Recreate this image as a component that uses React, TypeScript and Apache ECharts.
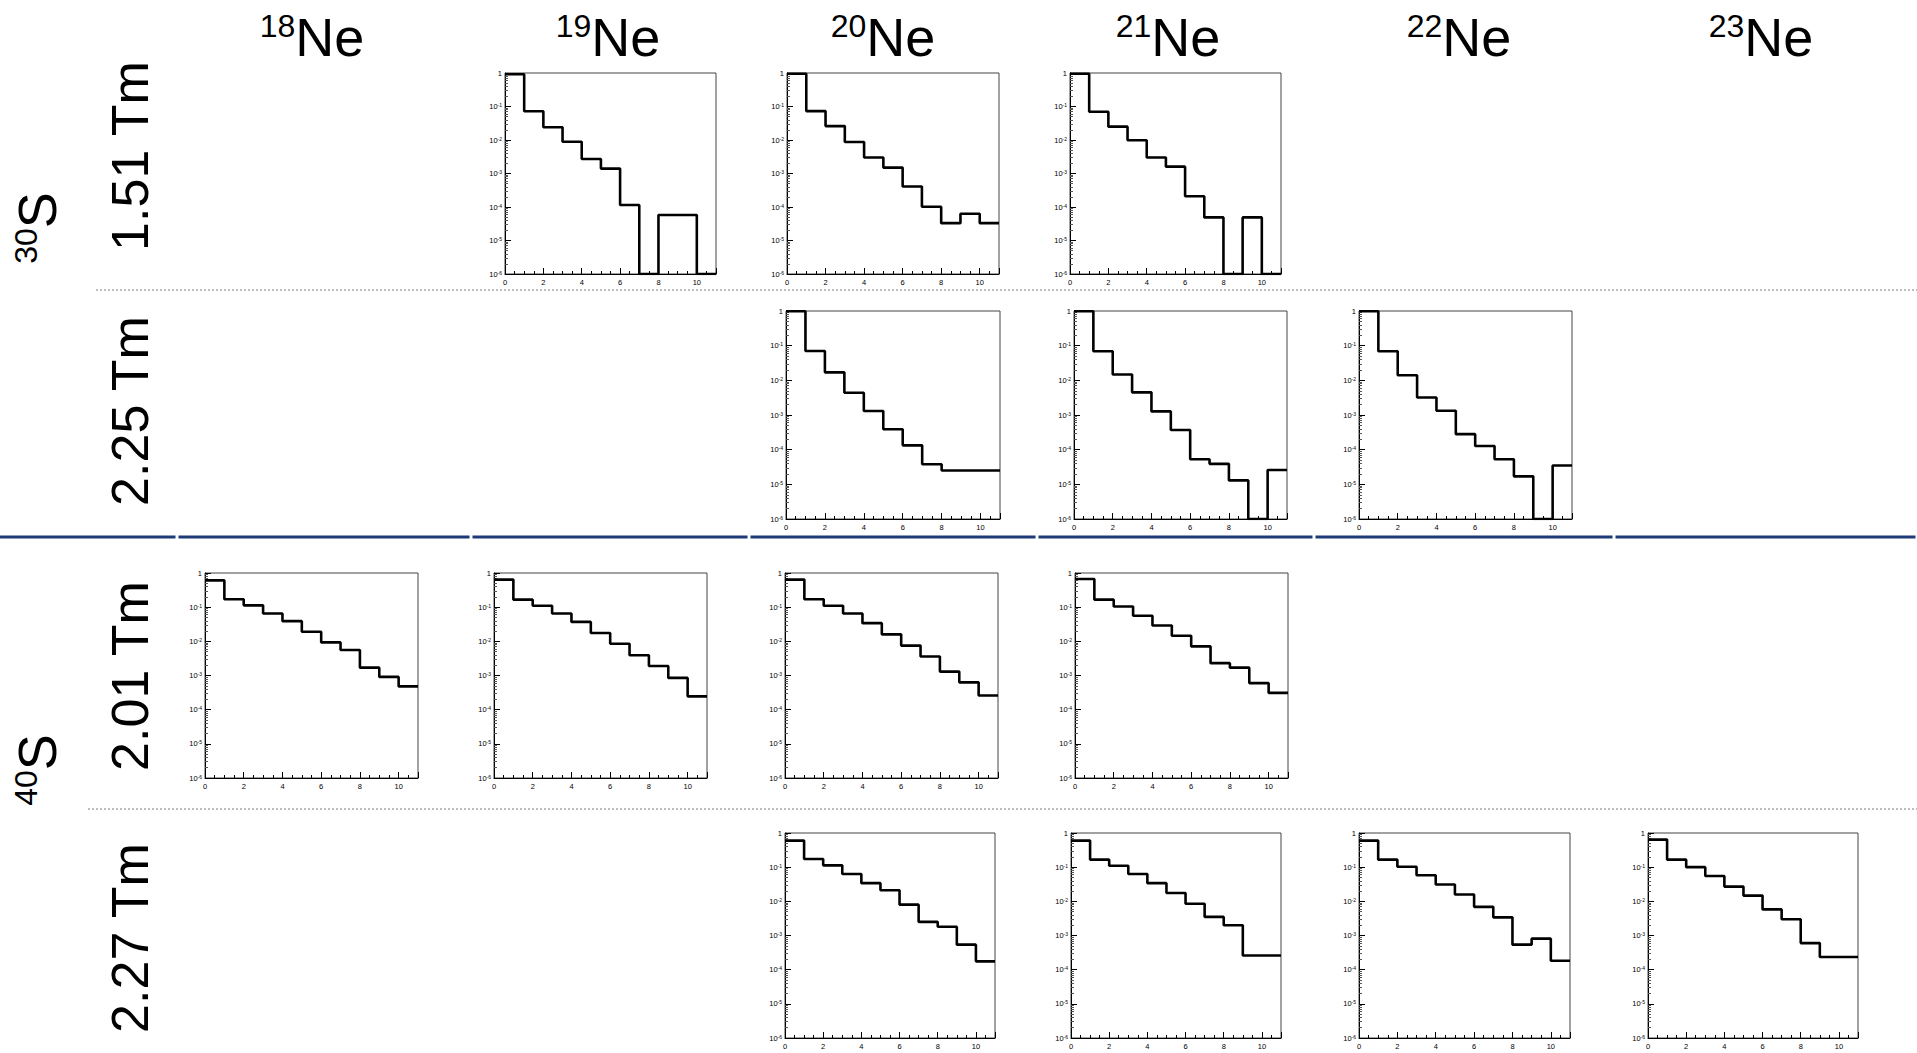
import React, { useEffect, useRef } from "react";
import * as echarts from "echarts";

const W = 1917;
const H = 1053;
const FONT = "'Liberation Sans', Arial, Helvetica, sans-serif";

// axis ranges
const Y_MIN = 1e-6;
const Y_MAX = 1;
const X_MAX = 11;
const binEdges = [0, 1, 2, 3, 4, 5, 6, 7, 8, 9, 10];

// labels
const isotopes = ["18", "19", "20", "21", "22", "23"];
const fragment = "Ne";
const beams = ["30", "40"];
const beamElement = "S";
const rigidities = ["1.51 Tm", "2.25 Tm", "2.01 Tm", "2.27 Tm"];

// histogram contents (0 = empty bin)
const s30_151_ne19 = [0.92, 0.072, 0.024, 0.0089, 0.0027, 0.0014, 0.000115, 0, 5.8e-5, 5.8e-5, 0];
const s30_151_ne20 = [0.95, 0.073, 0.026, 0.0087, 0.003, 0.0015, 0.00041, 0.000102, 3.3e-5, 6.3e-5, 3.3e-5];
const s30_151_ne21 = [0.95, 0.07, 0.025, 0.0098, 0.003, 0.0016, 0.00021, 4.9e-5, 0, 4.9e-5, 0];
const s30_225_ne20 = [0.98, 0.07, 0.017, 0.0044, 0.0013, 0.00039, 0.000133, 3.8e-5, 2.5e-5, 2.5e-5, 2.5e-5];
const s30_225_ne21 = [0.98, 0.069, 0.0148, 0.0045, 0.00127, 0.00037, 5.3e-5, 3.9e-5, 1.3e-5, 0, 2.6e-5];
const s30_225_ne22 = [0.98, 0.069, 0.014, 0.0032, 0.00133, 0.00028, 0.000128, 5.3e-5, 1.7e-5, 0, 3.5e-5];
const s40_201_ne18 = [0.61, 0.17, 0.113, 0.065, 0.039, 0.019, 0.0093, 0.0056, 0.0017, 0.00091, 0.00048];
const s40_201_ne19 = [0.64, 0.166, 0.11, 0.065, 0.037, 0.0175, 0.0085, 0.0039, 0.0019, 0.00085, 0.000245];
const s40_201_ne20 = [0.64, 0.17, 0.11, 0.065, 0.034, 0.016, 0.0075, 0.0036, 0.0013, 0.00063, 0.00026];
const s40_201_ne21 = [0.67, 0.166, 0.105, 0.056, 0.029, 0.0146, 0.0071, 0.0023, 0.0017, 0.0006, 0.00031];
const s40_227_ne20 = [0.6, 0.174, 0.113, 0.063, 0.034, 0.021, 0.008, 0.0025, 0.0018, 0.00054, 0.000175];
const s40_227_ne21 = [0.6, 0.166, 0.11, 0.063, 0.034, 0.0175, 0.0085, 0.0035, 0.002, 0.00026, 0.00026];
const s40_227_ne22 = [0.6, 0.166, 0.103, 0.058, 0.031, 0.0158, 0.0069, 0.0034, 0.00054, 0.00081, 0.000183];
const s40_227_ne23 = [0.64, 0.166, 0.1, 0.055, 0.027, 0.0147, 0.0058, 0.003, 0.0006, 0.000235, 0.000235];

// panel placement (pixels)
const panels = [
  { data: s30_151_ne19, left: 505, top: 73, width: 211, height: 201 },
  { data: s30_151_ne20, left: 787, top: 73, width: 212, height: 201 },
  { data: s30_151_ne21, left: 1070, top: 73, width: 211, height: 201 },
  { data: s30_225_ne20, left: 786, top: 311, width: 214, height: 208 },
  { data: s30_225_ne21, left: 1074, top: 311, width: 213, height: 208 },
  { data: s30_225_ne22, left: 1359, top: 311, width: 213, height: 208 },
  { data: s40_201_ne18, left: 205, top: 573, width: 213, height: 205 },
  { data: s40_201_ne19, left: 494, top: 573, width: 213, height: 205 },
  { data: s40_201_ne20, left: 785, top: 573, width: 213, height: 205 },
  { data: s40_201_ne21, left: 1075, top: 573, width: 213, height: 205 },
  { data: s40_227_ne20, left: 785, top: 833, width: 210, height: 205 },
  { data: s40_227_ne21, left: 1071, top: 833, width: 210, height: 205 },
  { data: s40_227_ne22, left: 1359, top: 833, width: 211, height: 205 },
  { data: s40_227_ne23, left: 1648, top: 833, width: 210, height: 205 },
];

const headerX = [312, 608, 883, 1168, 1459, 1761];
const rigidityY = [156, 411, 676, 938];
const beamY = [228, 770];
const blueBreaks = [0, 177, 471, 749, 1037, 1314, 1614, W];

function steps(arr: number[]) {
  const pts = arr.map((v, k) => [binEdges[k], v > 0 ? v : Y_MIN]);
  const last = arr[arr.length - 1];
  pts.push([X_MAX, last > 0 ? last : Y_MIN]);
  return pts;
}

function buildOption() {
  const grid: any[] = [];
  const xAxis: any[] = [];
  const yAxis: any[] = [];
  const series: any[] = [];
  panels.forEach((p, i) => {
    grid.push({
      left: p.left,
      top: p.top,
      width: p.width,
      height: p.height,
      show: true,
      borderColor: "#444",
      borderWidth: 1,
      backgroundColor: "#fff",
    });
    xAxis.push({
      gridIndex: i,
      type: "value",
      min: 0,
      max: X_MAX,
      interval: 2,
      axisLine: { show: true, lineStyle: { color: "#000", width: 1 } },
      axisTick: { show: true, inside: true, length: 6, lineStyle: { color: "#000", width: 1 } },
      minorTick: { show: true, splitNumber: 4, length: 3, lineStyle: { color: "#000", width: 1 } },
      splitLine: { show: false },
      minorSplitLine: { show: false },
      axisLabel: {
        fontSize: 7.5,
        margin: 4,
        color: "#000",
        fontFamily: FONT,
        showMaxLabel: false,
        formatter: (v: number) => (v > 10 ? "" : String(v)),
      },
    });
    yAxis.push({
      gridIndex: i,
      type: "log",
      logBase: 10,
      min: Y_MIN,
      max: Y_MAX,
      splitNumber: 6,
      axisLine: { show: true, lineStyle: { color: "#000", width: 1 } },
      axisTick: { show: true, inside: true, length: 6, lineStyle: { color: "#000", width: 1 } },
      minorTick: { show: true, splitNumber: 9, length: 3, lineStyle: { color: "#555", width: 1 } },
      splitLine: { show: false },
      minorSplitLine: { show: false },
      axisLabel: {
        fontSize: 7.5,
        margin: 3,
        color: "#000",
        fontFamily: FONT,
        formatter: (v: number) => {
          const e = Math.round(Math.log10(v));
          return e === 0 ? "1" : `10{s|${e}}`;
        },
        rich: {
          s: { fontSize: 5, verticalAlign: "top", fontFamily: FONT, color: "#000", padding: [0, 0, 3, 0] },
        },
      },
    });
    series.push({
      type: "line",
      xAxisIndex: i,
      yAxisIndex: i,
      step: "end",
      symbol: "none",
      clip: true,
      data: steps(p.data),
      lineStyle: { color: "#000", width: 2.6 },
    });
  });

  const graphic: any[] = [];
  isotopes.forEach((a, i) => {
    graphic.push({
      type: "text",
      x: headerX[i],
      y: 37,
      style: {
        text: `{sup|${a}}{main|${fragment}}`,
        align: "center",
        verticalAlign: "middle",
        fill: "#000",
        fontFamily: FONT,
        rich: {
          sup: { fontSize: 32, fontFamily: FONT, verticalAlign: "top", fill: "#000", color: "#000" },
          main: { fontSize: 54, fontFamily: FONT, fill: "#000", color: "#000" },
        },
      },
    });
  });
  rigidities.forEach((r, i) => {
    graphic.push({
      type: "text",
      x: 130,
      y: rigidityY[i],
      rotation: Math.PI / 2,
      style: {
        text: r,
        align: "center",
        verticalAlign: "middle",
        fill: "#000",
        fontSize: 52,
        fontFamily: FONT,
      },
    });
  });
  beams.forEach((b, i) => {
    graphic.push({
      type: "text",
      x: 37,
      y: beamY[i],
      rotation: Math.PI / 2,
      style: {
        text: `{sup|${b}}{main|${beamElement}}`,
        align: "center",
        verticalAlign: "middle",
        fill: "#000",
        fontFamily: FONT,
        rich: {
          sup: { fontSize: 32, fontFamily: FONT, verticalAlign: "top", fill: "#000", color: "#000" },
          main: { fontSize: 54, fontFamily: FONT, fill: "#000", color: "#000" },
        },
      },
    });
  });
  graphic.push({
    type: "line",
    shape: { x1: 96, y1: 290, x2: W, y2: 290 },
    style: { stroke: "#a8a8a8", lineWidth: 1.5, lineDash: [2, 2] },
  });
  graphic.push({
    type: "line",
    shape: { x1: 88, y1: 809, x2: W, y2: 809 },
    style: { stroke: "#a8a8a8", lineWidth: 1.5, lineDash: [2, 2] },
  });
  for (let k = 0; k < blueBreaks.length - 1; k++) {
    graphic.push({
      type: "line",
      shape: { x1: blueBreaks[k] + (k === 0 ? 0 : 1.5), y1: 537, x2: blueBreaks[k + 1] - 1.5, y2: 537 },
      style: { stroke: "#1f3a78", lineWidth: 3 },
    });
  }

  return {
    animation: false,
    backgroundColor: "#fff",
    grid,
    xAxis,
    yAxis,
    series,
    graphic,
  };
}

export default function App() {
  const ref = useRef<HTMLDivElement>(null);
  useEffect(() => {
    if (!ref.current) return;
    const chart = echarts.init(ref.current, undefined, { renderer: "svg", width: W, height: H });
    chart.setOption(buildOption() as any);
    return () => chart.dispose();
  }, []);
  return (
    <div
      ref={ref}
      style={{ position: "fixed", left: 0, top: 0, width: W, height: H, background: "#fff" }}
    />
  );
}
